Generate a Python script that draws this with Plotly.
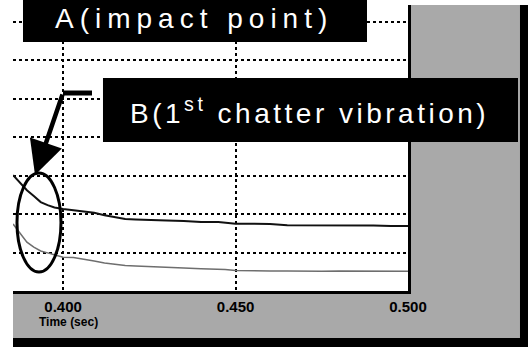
import plotly.graph_objects as go

# ---- data ----
time_upper = [0.3855, 0.3875, 0.3895, 0.3915, 0.3935, 0.3955, 0.3975, 0.4000, 0.4030, 0.4060,
              0.4090, 0.4120, 0.4150, 0.4180, 0.4210, 0.4250, 0.4300, 0.4350, 0.4400, 0.4450,
              0.4470, 0.4500, 0.4550, 0.4600, 0.4650, 0.4700, 0.4750, 0.4800, 0.4850, 0.4900,
              0.4950, 0.5000]
upper_vals = [3.01, 2.80, 2.62, 2.47, 2.31, 2.23, 2.17, 2.13, 2.10, 2.07,
              2.03, 1.97, 1.92, 1.87, 1.86, 1.84, 1.83, 1.82, 1.79, 1.79,
              1.77, 1.75, 1.75, 1.74, 1.71, 1.71, 1.71, 1.70, 1.70, 1.70,
              1.69, 1.69]
time_lower = time_upper
lower_vals = [1.74, 1.51, 1.27, 1.14, 1.04, 0.99, 0.94, 0.88, 0.87, 0.83,
              0.78, 0.73, 0.69, 0.66, 0.65, 0.64, 0.62, 0.60, 0.58, 0.57,
              0.56, 0.53, 0.52, 0.52, 0.52, 0.51, 0.51, 0.52, 0.52, 0.52,
              0.51, 0.51]
x_tick_vals = [0.400, 0.450, 0.500]
x_tick_text = ["0.400", "0.450", "0.500"]
x_title = "Time (sec)"
label_a = "A(impact point)"
label_b = "B(1<sup>st</sup> chatter vibration)"

fig = go.Figure()
fig.add_trace(go.Scatter(x=time_lower, y=lower_vals, mode="lines",
                         line=dict(color="#6e6e6e", width=1.5), showlegend=False))
fig.add_trace(go.Scatter(x=time_upper, y=upper_vals, mode="lines",
                         line=dict(color="#111111", width=2.0), showlegend=False))

GRAY = "#a9a9a9"
shapes = [
    # gray halftone areas outside the plot
    dict(type="rect", xref="paper", yref="paper", x0=1.0, x1=1.2835, y0=-0.1643, y1=1.0,
         fillcolor=GRAY, line=dict(width=0), layer="below"),
    dict(type="rect", xref="paper", yref="paper", x0=0.0, x1=1.0, y0=-0.1643, y1=0.0,
         fillcolor=GRAY, line=dict(width=0), layer="below"),
    # black frame bars
    dict(type="rect", xref="paper", yref="paper", x0=1.2835, x1=1.3038, y0=-0.1958, y1=1.0,
         fillcolor="black", line=dict(width=0), layer="above"),
    dict(type="rect", xref="paper", yref="paper", x0=0.0, x1=1.3038, y0=-0.1958, y1=-0.1643,
         fillcolor="black", line=dict(width=0), layer="above"),
    # A box
    dict(type="rect", xref="paper", yref="paper", x0=0.0253, x1=0.8962, y0=0.8706, y1=1.02,
         fillcolor="black", line=dict(width=0), layer="above"),
    # B box
    dict(type="rect", xref="paper", yref="paper", x0=0.2278, x1=1.2785, y0=0.5210, y1=0.7448,
         fillcolor="black", line=dict(width=0), layer="above"),
    # arrow horizontal part
    dict(type="line", xref="paper", yref="paper", x0=0.1266, x1=0.2000, y0=0.6923, y1=0.6923,
         line=dict(color="black", width=5), layer="above"),
    # ellipse
    dict(type="circle", xref="paper", yref="paper", x0=0.0101, x1=0.1215, y0=0.0664, y1=0.4126,
         line=dict(color="black", width=3), layer="above"),
]

annotations = [
    dict(text='<span style="letter-spacing:6px">' + label_a + '</span>', xref="paper", yref="paper",
         x=0.458, y=0.9528, xanchor="center", yanchor="middle", showarrow=False,
         font=dict(family="Liberation Sans, Arial", size=28, color="white")),
    dict(text='<span style="letter-spacing:3.5px">' + label_b + '</span>', xref="paper", yref="paper",
         x=0.7506, y=0.6294, xanchor="center", yanchor="middle", showarrow=False,
         font=dict(family="Liberation Sans, Arial", size=28, color="white")),
    dict(text="", xref="paper", yref="paper", x=0.0557, y=0.4056, ax=28, ay=-82,
         showarrow=True, arrowhead=2, arrowsize=1.5, arrowwidth=4.5, arrowcolor="black"),
    dict(text="<b>" + x_title + "</b>", xref="paper", yref="paper", x=0.0608, y=-0.1084,
         xanchor="left", yanchor="middle", showarrow=False,
         font=dict(family="Liberation Sans, Arial", size=12, color="black")),
]

fig.update_layout(
    width=530, height=350,
    margin=dict(l=13, r=122, t=5, b=59),
    paper_bgcolor="white", plot_bgcolor="white",
    shapes=shapes, annotations=annotations,
    xaxis=dict(range=[0.38547, 0.5], tickvals=x_tick_vals, ticktext=x_tick_text,
               showgrid=True, gridcolor="black", griddash="dot", gridwidth=1.5,
               showline=True, linecolor="black", linewidth=3, zeroline=False,
               ticks="", tickfont=dict(family="Liberation Sans, Arial", size=15, color="black",
                                       weight="bold")),
    yaxis=dict(range=[0, 7.43], dtick=1, tick0=0, showticklabels=False,
               showgrid=True, gridcolor="black", griddash="dot", gridwidth=1.5,
               side="right", showline=True, linecolor="black", linewidth=3,
               zeroline=False, ticks=""),
)

fig.write_html("out.html")
